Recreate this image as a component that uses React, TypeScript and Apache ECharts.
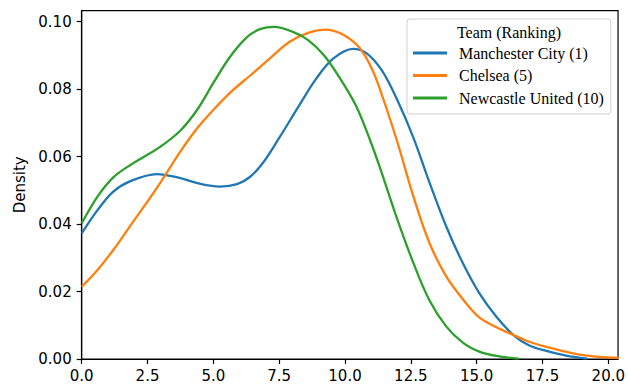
import React, { useEffect, useRef } from "react";
import * as echarts from "echarts";

const seriesNames = ["Manchester City (1)", "Chelsea (5)", "Newcastle United (10)"];
const seriesColors = ["#1f77b4", "#ff7f0e", "#2ca02c"];

const cityX = [0, 0.6, 1.2, 1.85, 2.85, 3.75, 4.4, 5.25, 5.9, 6.4, 6.9, 7.5, 8.25, 8.9, 9.55, 10.3, 10.8, 11.4, 12.0, 12.6, 13.2, 13.85, 14.45, 15.1, 15.75, 16.4, 17.0, 17.65, 18.4, 19.2];
const cityY = [0.0372, 0.0441, 0.0496, 0.0527, 0.0548, 0.0536, 0.0521, 0.0511, 0.0518, 0.054, 0.0583, 0.0655, 0.075, 0.083, 0.089, 0.0919, 0.0907, 0.0855, 0.0765, 0.0655, 0.0525, 0.0392, 0.0288, 0.0195, 0.0125, 0.0071, 0.004, 0.0024, 0.001, 0.0001];

const chelseaX = [0, 0.6, 1.2, 1.85, 2.6, 3.2, 3.75, 4.4, 5.0, 5.65, 6.4, 7.15, 7.9, 8.65, 9.25, 9.9, 10.55, 11.05, 11.5, 12.0, 12.6, 13.2, 13.85, 14.5, 15.1, 15.75, 16.4, 17.0, 17.65, 18.9, 20.4];
const chelseaY = [0.0214, 0.0264, 0.0323, 0.0395, 0.0478, 0.0548, 0.0615, 0.0685, 0.0738, 0.079, 0.084, 0.0891, 0.094, 0.0968, 0.0976, 0.0962, 0.0922, 0.0855, 0.076, 0.064, 0.0481, 0.0345, 0.0244, 0.0175, 0.0123, 0.0094, 0.0071, 0.0051, 0.0036, 0.0013, 0.0003];

const newcastleX = [0, 0.6, 1.2, 1.85, 2.95, 3.75, 4.4, 5.0, 5.65, 6.3, 6.8, 7.3, 8.0, 8.6, 9.2, 9.8, 10.4, 10.95, 11.35, 11.95, 12.6, 13.2, 13.85, 14.5, 15.1, 15.75, 16.6];
const newcastleY = [0.0402, 0.0481, 0.0538, 0.0575, 0.0627, 0.0677, 0.074, 0.0818, 0.0897, 0.0955, 0.0978, 0.0984, 0.097, 0.0945, 0.09, 0.0833, 0.0753, 0.0649, 0.0562, 0.0422, 0.0284, 0.0175, 0.0096, 0.0047, 0.0022, 0.0009, 0.0001];

const xTicks = [0, 2.5, 5, 7.5, 10, 12.5, 15, 17.5, 20];
const yTicks = [0, 0.02, 0.04, 0.06, 0.08, 0.1];

const legendTitle = "Team (Ranking)";

export default function App() {
  const ref = useRef<HTMLDivElement>(null);
  useEffect(() => {
    if (!ref.current) return;
    const chart = echarts.init(ref.current, null, { renderer: "svg" });
    const xs = [cityX, chelseaX, newcastleX];
    const ys = [cityY, chelseaY, newcastleY];
    const tickFont = { fontFamily: "DejaVu Sans", fontSize: 15, color: "#000" };
    chart.setOption({
      animation: false,
      backgroundColor: "#fff",
      grid: {
        left: 81.7,
        right: 9.3,
        top: 10.7,
        bottom: 30,
        show: true,
        borderColor: "#000",
        borderWidth: 1.2,
      },
      xAxis: {
        type: "value",
        min: 0,
        max: 20.37,
        axisLine: { show: true, lineStyle: { color: "#000", width: 1.2 } },
        axisTick: { show: true, length: 5, lineStyle: { color: "#000", width: 1.2 }, customValues: xTicks },
        axisLabel: {
          ...tickFont,
          margin: 9,
          customValues: xTicks,
          formatter: (v: number) => v.toFixed(1),
        },
        splitLine: { show: false },
      },
      yAxis: {
        type: "value",
        min: 0,
        max: 0.1032,
        name: "Density",
        nameLocation: "middle",
        nameGap: 50,
        nameTextStyle: { fontFamily: "DejaVu Sans", fontSize: 15, color: "#000" },
        axisLine: { show: true, lineStyle: { color: "#000", width: 1.2 } },
        axisTick: { show: true, length: 5, lineStyle: { color: "#000", width: 1.2 }, customValues: yTicks },
        axisLabel: {
          ...tickFont,
          margin: 10,
          customValues: yTicks,
          formatter: (v: number) => v.toFixed(2),
        },
        splitLine: { show: false },
      },
      legend: {
        orient: "vertical",
        left: 407,
        top: 19,
        padding: [25, 7, 7, 6],
        backgroundColor: "#fff",
        borderColor: "#d0d0d0",
        borderWidth: 1,
        borderRadius: 3,
        icon: "rect",
        itemWidth: 34,
        itemHeight: 3,
        itemGap: 4.5,
        textStyle: {
          fontFamily: "Liberation Serif",
          fontSize: 16,
          lineHeight: 18,
          color: "#000",
          padding: [0, 0, 0, 7],
        },
        data: seriesNames,
      },
      graphic: [
        {
          type: "text",
          z: 100,
          x: 509,
          y: 32,
          style: {
            text: legendTitle,
            fontFamily: "Liberation Serif",
            fontSize: 16,
            fill: "#000",
            align: "center",
            verticalAlign: "middle",
          },
        },
      ],
      series: seriesNames.map((name, i) => ({
        name,
        type: "line",
        data: xs[i].map((x, j) => [x, ys[i][j]]),
        smooth: 0.35,
        symbol: "none",
        showSymbol: false,
        lineStyle: { color: seriesColors[i], width: 2.3 },
        itemStyle: { color: seriesColors[i] },
      })),
    });
    return () => chart.dispose();
  }, []);
  return <div ref={ref} style={{ width: 628, height: 389, position: "fixed", left: 0, top: 0 }} />;
}
